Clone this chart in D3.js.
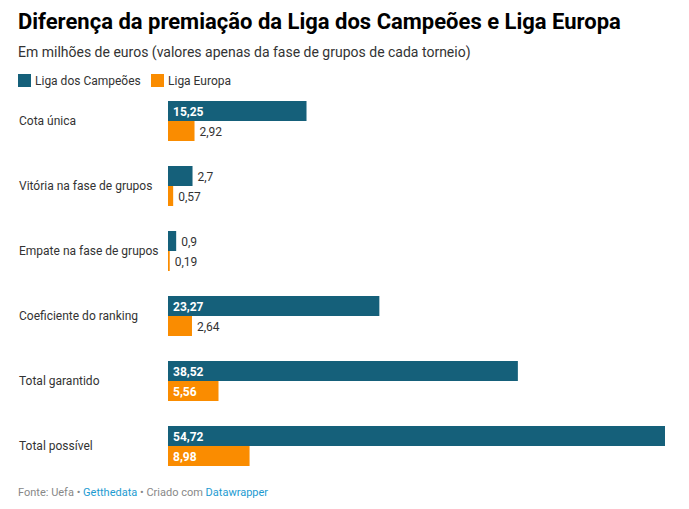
<!DOCTYPE html>
<html>
<head>
<meta charset="utf-8">
<script src="https://cdn.jsdelivr.net/npm/d3@7"></script>
<style>
  body { margin: 0; background: #fff; font-family: Roboto, sans-serif; }
  svg text { font-family: Roboto, sans-serif; }
</style>
</head>
<body>
<svg id="canvas" width="689" height="509"></svg>
<script>
'use strict';

const categories = ['Cota única', 'Vitória na fase de grupos', 'Empate na fase de grupos',
  'Coeficiente do ranking', 'Total garantido', 'Total possível'];
const seriesNames = ['Liga dos Campeões', 'Liga Europa'];
const championsValues = [15.25, 2.7, 0.9, 23.27, 38.52, 54.72];
const europaValues = [2.92, 0.57, 0.19, 2.64, 5.56, 8.98];
const seriesColors = ['#15607a', '#fa8c00'];

(function() {

function FormatValue(v) {
  return String(v).replace('.', ',');
}

function Main() {
  const svg = d3.select('#canvas');
  const kBarLeft = 168;
  const kBarRight = 665;
  const kBarHeight = 20;

  svg.append('text')
      .attr('x', 18).attr('y', 29)
      .attr('font-size', 22).attr('font-weight', 700).attr('fill', '#000')
      .text('Diferença da premiação da Liga dos Campeões e Liga Europa');

  svg.append('text')
      .attr('x', 18).attr('y', 57)
      .attr('font-size', 14).attr('fill', '#333')
      .text('Em milhões de euros (valores apenas da fase de grupos de cada torneio)');

  // legend
  const legendX = [18, 151];
  seriesNames.forEach(function(name, i) {
    svg.append('rect')
        .attr('x', legendX[i]).attr('y', 74)
        .attr('width', 13).attr('height', 13)
        .attr('fill', seriesColors[i]);
    svg.append('text')
        .attr('x', legendX[i] + 17).attr('y', 85)
        .attr('font-size', 12).attr('fill', '#333')
        .text(name);
  });

  const x = d3.scaleLinear()
      .domain([0, d3.max(championsValues)])
      .range([kBarLeft, kBarRight]);

  const y = d3.scaleBand()
      .domain(categories)
      .range([101, 491])
      .paddingInner(0);

  const rows = categories.map(function(c, i) {
    return {category: c, values: [championsValues[i], europaValues[i]]};
  });

  const groups = svg.selectAll('g.row')
      .data(rows)
    .enter().append('g')
      .attr('class', 'row')
      .attr('transform', function(d) { return 'translate(0,' + y(d.category) + ')'; });

  groups.append('text')
      .attr('x', 19).attr('y', kBarHeight + 4)
      .attr('font-size', 12).attr('fill', '#333')
      .text(function(d) { return d.category; });

  const bars = groups.selectAll('g.bar')
      .data(function(d) {
        return d.values.map(function(v, i) { return {value: v, series: i}; });
      })
    .enter().append('g')
      .attr('class', 'bar')
      .attr('transform', function(d) { return 'translate(0,' + d.series * kBarHeight + ')'; });

  bars.append('rect')
      .attr('x', kBarLeft)
      .attr('y', 0)
      .attr('width', function(d) { return x(d.value) - kBarLeft; })
      .attr('height', kBarHeight)
      .attr('fill', function(d) { return seriesColors[d.series]; });

  bars.append('text')
      .attr('y', 14.5)
      .attr('font-size', 12)
      .attr('x', function(d) {
        const w = x(d.value) - kBarLeft;
        return w > 40 ? kBarLeft + 5 : x(d.value) + 5;
      })
      .attr('font-weight', function(d) { return x(d.value) - kBarLeft > 40 ? 700 : 400; })
      .attr('fill', function(d) { return x(d.value) - kBarLeft > 40 ? '#fff' : '#333'; })
      .text(function(d) { return FormatValue(d.value); });

  // footer
  const footer = svg.append('text')
      .attr('x', 18).attr('y', 496)
      .attr('font-size', 11).attr('fill', '#888');
  footer.append('tspan').text('Fonte: Uefa • ');
  footer.append('tspan').attr('fill', '#1d9bd1').text('Getthedata');
  footer.append('tspan').text(' • Criado com ');
  footer.append('tspan').attr('fill', '#1d9bd1').text('Datawrapper');
}

Main();

})();
</script>
</body>
</html>
